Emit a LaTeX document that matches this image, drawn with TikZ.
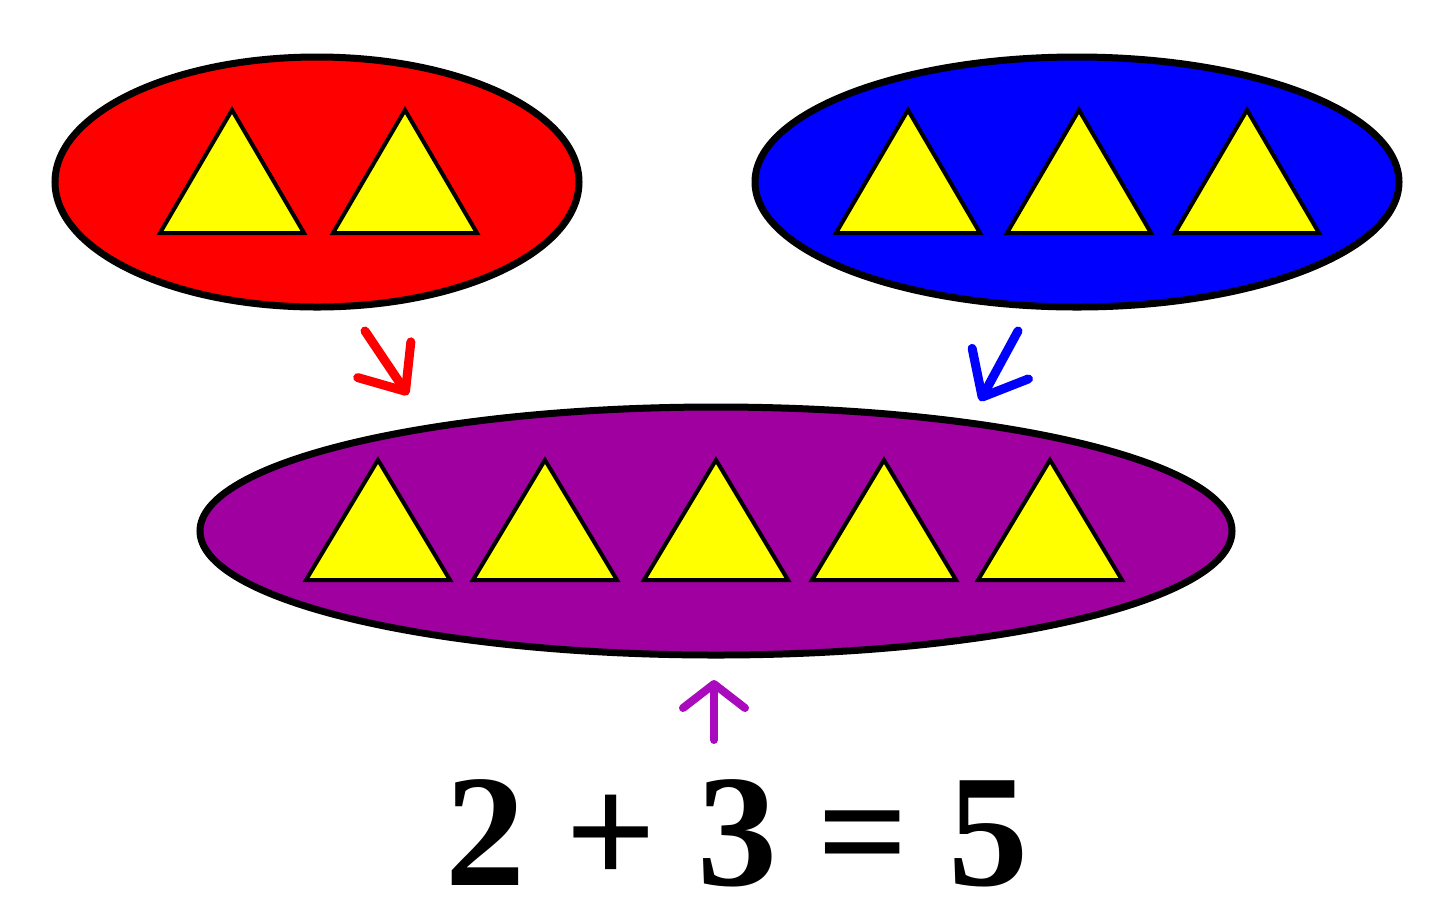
\documentclass[tikz,border=0pt]{standalone}
\usepackage{fontspec}
\setmainfont{Liberation Serif}
\usetikzlibrary{shapes.geometric,arrows.meta}
\definecolor{setred}{RGB}{255,0,0}
\definecolor{setblue}{RGB}{0,0,255}
\definecolor{setpurple}{RGB}{160,0,160}
\definecolor{arrowpurple}{RGB}{170,10,190}
\definecolor{triyellow}{RGB}{255,255,0}

\begin{document}
\begin{tikzpicture}[x=0.5pt,y=-0.5pt,
                    set/.style={ellipse,draw=black,line width=3.5pt,inner sep=0pt},
                    tri/.style={draw=black,line width=2pt,fill=triyellow,line join=miter},
                    mergearrow/.style={line width=4.5pt,line cap=round,line join=round,
                                 -{Straight Barb[length=19pt,width=32pt,line cap=round,line join=round]}},
                    sumarrow/.style={line width=4pt,line cap=round,line join=round,
                                 -{Straight Barb[length=12pt,width=31pt,line cap=round,line join=round]}}
                    ]
    \def\w{72}  % half triangle base
    \def\h{123} % triangle height
    \useasboundingbox (0,0) rectangle (1440,923);

    % the three sets
    \node[set,fill=setred,minimum width=262pt,minimum height=125pt] (red) at (317,182) {};
    \node[set,fill=setblue,minimum width=322pt,minimum height=125pt] (blue) at (1077,182) {};
    \node[set,fill=setpurple,minimum width=516pt,minimum height=124pt] (sum) at (716,531) {};

    % triangles
    \foreach \x in {232,405,908,1079,1247} {
        \draw[tri] (\x-\w,233) -- (\x,233-\h) -- (\x+\w,233) -- cycle;
    }
    \foreach \x in {378,545,716,884,1050} {
        \draw[tri] (\x-\w,580) -- (\x,580-\h+3) -- (\x+\w,580) -- cycle;
    }

    % arrows
    \coordinate (redtail) at (365,331);
    \coordinate (redtip) at (408,395);
    \coordinate (bluetail) at (1018,331);
    \coordinate (bluetip) at (980,401);
    \coordinate (sumtail) at (714,740);
    \coordinate (sumtip) at (714,680);
    \draw[mergearrow,setred] (redtail) -- (redtip);
    \draw[mergearrow,setblue] (bluetail) -- (bluetip);
    \draw[sumarrow,arrowpurple] (sumtail) -- (sumtip);

    \node[font=\fontsize{80}{80}\selectfont\bfseries,anchor=base,inner sep=0pt] (eq) at (737,885) {2 + 3 = 5};
\end{tikzpicture}
\end{document}
